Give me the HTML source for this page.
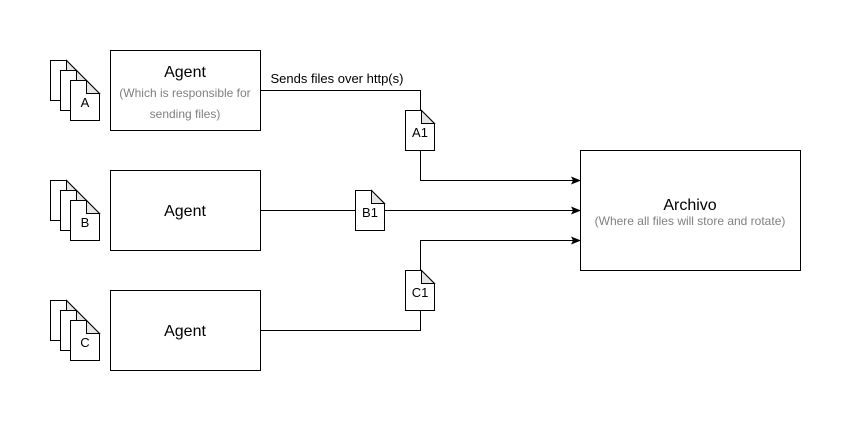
<!DOCTYPE html>
<html><head><meta charset="utf-8"><style>body{margin:0;background:#fff}</style></head><body>
<svg width="851" height="421" xmlns="http://www.w3.org/2000/svg" font-family="Liberation Sans, Helvetica, Arial, sans-serif">
<defs>
<g id="pg"><path d="M0.5,0.5 H16.5 L29.5,13.5 V40.5 H0.5 Z" fill="#fff" stroke="#000"/><path d="M16.5,0.5 V13.5 H29.5 Z" fill="#e6e6e6" stroke="#000"/></g>
<marker id="ar" markerWidth="10" markerHeight="8" refX="9" refY="4" orient="auto" markerUnits="userSpaceOnUse"><path d="M0,0 L10,4 L0,8 L2,4 Z" fill="#000"/></marker>
</defs>
<g>
<use href="#pg" x="50" y="60"/><use href="#pg" x="60" y="70"/><use href="#pg" x="70" y="80"/>
<text x="85" y="107" font-size="13" text-anchor="middle">A</text>
<use href="#pg" x="50" y="180"/><use href="#pg" x="60" y="190"/><use href="#pg" x="70" y="200"/>
<text x="85" y="227" font-size="13" text-anchor="middle">B</text>
<use href="#pg" x="50" y="300"/><use href="#pg" x="60" y="310"/><use href="#pg" x="70" y="320"/>
<text x="85" y="347" font-size="13" text-anchor="middle">C</text>
</g>
<rect x="110.5" y="50.5" width="150" height="80" fill="#fff" stroke="#000"/>
<text x="185" y="77" font-size="16" text-anchor="middle">Agent</text>
<text x="185" y="97" font-size="12" fill="#808080" text-anchor="middle">(Which is responsible for</text>
<text x="185" y="118" font-size="12" fill="#808080" text-anchor="middle">sending files)</text>
<rect x="110.5" y="170.5" width="150" height="80" fill="#fff" stroke="#000"/>
<text x="185" y="216" font-size="16" text-anchor="middle">Agent</text>
<rect x="110.5" y="290.5" width="150" height="80" fill="#fff" stroke="#000"/>
<text x="185" y="336" font-size="16" text-anchor="middle">Agent</text>
<rect x="580.5" y="150.5" width="220" height="120" fill="#fff" stroke="#000"/>
<text x="690" y="210" font-size="16" text-anchor="middle">Archivo</text>
<text x="690" y="225" font-size="12" fill="#808080" text-anchor="middle">(Where all files will store and rotate)</text>
<g fill="none" stroke="#000">
<path d="M260,90.5 H420.5 V110"/>
<path d="M420.5,150 V180.5 H580" marker-end="url(#ar)"/>
<path d="M260,210.5 H355"/>
<path d="M385,210.5 H580" marker-end="url(#ar)"/>
<path d="M260,330.5 H420.5 V310"/>
<path d="M420.5,270 V240.5 H580" marker-end="url(#ar)"/>
</g>
<text x="337" y="83" font-size="13" text-anchor="middle">Sends files over http(s)</text>
<use href="#pg" x="405" y="110"/><text x="420" y="137" font-size="13" text-anchor="middle">A1</text>
<use href="#pg" x="355" y="190"/><text x="370" y="217" font-size="13" text-anchor="middle">B1</text>
<use href="#pg" x="405" y="270"/><text x="420" y="297" font-size="13" text-anchor="middle">C1</text>
</svg>
</body></html>
